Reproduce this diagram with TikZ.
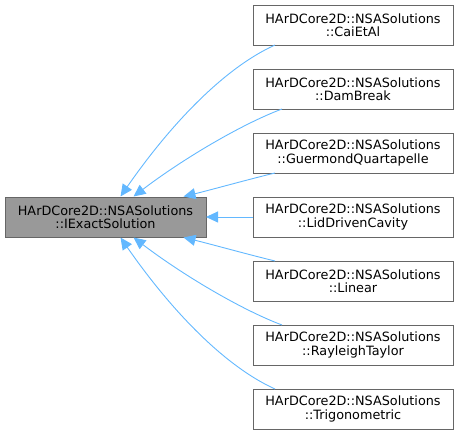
\documentclass[tikz,border=0pt]{standalone}
\usepackage{fontspec}
\setmainfont{DejaVu Sans}
\usepackage{tikz}
\usetikzlibrary{arrows.meta,positioning,calc}
\usepackage{xcolor}
\definecolor{edgeblue}{HTML}{63B8FF}
\definecolor{basegray}{HTML}{999999}
\definecolor{framegray}{HTML}{666666}

\begin{document}
\begin{tikzpicture}[x=1pt,y=-1pt,
  font=\fontsize{12.8}{13.5}\selectfont,
  cls/.style={draw=framegray,fill=white,minimum width=200pt,minimum height=40pt,
    align=center,inner sep=0pt,outer sep=0pt},
  baseCls/.style={cls,fill=basegray,minimum width=201pt},
  inh/.style={edgeblue,line width=0.9pt,-{Triangle[length=12pt,width=11pt]}}]
\useasboundingbox (0,0) rectangle (459,435);
\node[baseCls] (base) at (105.5,217) {HArDCore2D::NSASolutions\\::IExactSolution};
\foreach \nm/\txt [count=\i from 0] in {cai/CaiEtAl,dam/DamBreak,guer/GuermondQuartapelle,
    lid/LidDrivenCavity,lin/Linear,ray/RayleighTaylor,trig/Trigonometric}{
  \node[cls] (\nm) at (353,25+64*\i) {HArDCore2D::NSASolutions\\::\txt};}
\draw[inh] ([xshift=-78pt]cai.south) .. controls +(-55,25) and +(45,-65) .. ([xshift=15pt,yshift=0.5pt]base.north);
\draw[inh] ([xshift=-71pt]dam.south) .. controls +(-40,15) and +(50,-38) .. ([xshift=28pt,yshift=0.5pt]base.north);
\draw[inh] ([xshift=-78pt]guer.south) .. controls +(-25,6) and +(25,-6) .. ([xshift=78pt,yshift=0.5pt]base.north);
\draw[inh] (lid.west) -- (base.east);
\draw[inh] ([xshift=-78pt]lin.north) .. controls +(-25,-6) and +(25,6) .. ([xshift=78pt,yshift=-0.5pt]base.south);
\draw[inh] ([xshift=-71pt]ray.north) .. controls +(-40,-15) and +(50,38) .. ([xshift=28pt,yshift=-0.5pt]base.south);
\draw[inh] ([xshift=-78pt]trig.north) .. controls +(-55,-25) and +(45,65) .. ([xshift=15pt,yshift=-0.5pt]base.south);
\end{tikzpicture}
\end{document}
